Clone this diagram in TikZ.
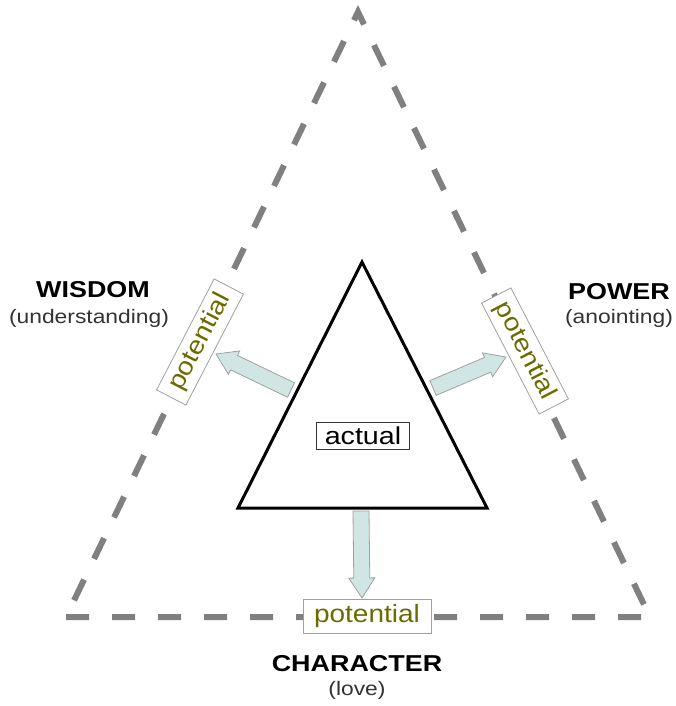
\documentclass[tikz,border=0pt]{standalone}
\usepackage{fontspec}
\setmainfont{Liberation Sans}[FakeStretch=1.17]
\newfontfamily\potfont{Liberation Sans}[FakeStretch=1.12]
\usetikzlibrary{calc}
\definecolor{dashgray}{HTML}{808080}
\definecolor{potcol}{HTML}{6B6B00}
\definecolor{arrowfill}{HTML}{CFE6E4}
\definecolor{arrowedge}{HTML}{A0A0A0}
\tikzset{
  outertri/.style={draw=dashgray, line width=6pt, dash pattern=on 23pt off 23pt},
  innertri/.style={draw=black, line width=3pt, line join=miter},
  potbox/.style={draw=arrowedge, line width=0.8pt, fill=white, text=potcol, font=\potfont\fontsize{25}{29}\selectfont,
    minimum width=125pt, minimum height=33pt, inner sep=0pt},
  actbox/.style={draw=black!80, line width=0.8pt, fill=white, font=\fontsize{24.5}{28}\selectfont,
    minimum width=93pt, minimum height=27pt, inner sep=0pt},
  heading/.style={font=\fontsize{23}{27}\selectfont\bfseries, inner sep=0pt},
  subheading/.style={font=\fontsize{19.5}{23}\selectfont, text=black!80, inner sep=0pt},
  barrow/.style={fill=arrowfill, draw=arrowedge, line width=0.8pt, line join=miter}
}
\newcommand\blockarrow[2]{%
  \path ($(#2)!20pt!(#1)$) coordinate (ba-neck);
  \draw[barrow] ($(#1)!8pt!90:(#2)$) -- ($(ba-neck)!8pt!90:(#2)$) -- ($(ba-neck)!13pt!90:(#2)$)
    -- (#2) -- ($(ba-neck)!13pt!-90:(#2)$) -- ($(ba-neck)!8pt!-90:(#2)$) -- ($(#1)!8pt!-90:(#2)$) -- cycle;}
\begin{document}
\begin{tikzpicture}[x=1pt,y=-1pt]
\path[use as bounding box] (0,0) rectangle (675,706);
% outer dashed triangle
\coordinate (oA) at (358,12);
\coordinate (oL) at (66,617);
\coordinate (oR) at (650,617);
\draw[outertri] (oL) -- (oR) -- (oA) -- cycle;
% arrows
\coordinate (tL) at (291,390); \coordinate (pL) at (216,354);
\coordinate (tR) at (433,388); \coordinate (pR) at (506,357);
\coordinate (tB) at (361,511); \coordinate (pB) at (362,598);
\blockarrow{tL}{pL}
\blockarrow{tR}{pR}
\blockarrow{tB}{pB}
% inner triangle
\coordinate (iA) at (362,262);
\coordinate (iL) at (238,508);
\coordinate (iR) at (487,508);
\draw[innertri] (iL) -- (iR) -- (iA) -- cycle;
\node[actbox] (actual) at (363,436) {actual};
% potential boxes
\node[potbox, rotate=62.6] (potL) at (200,342) {potential};
\node[potbox, rotate=-62.6] (potR) at (525,351) {potential};
\node[potbox, minimum width=128pt, minimum height=34pt] (potB) at (367,616) {potential};
% labels
\node[heading] (wisdom) at (93,290) {WISDOM};
\node[subheading] (wisdomsub) at (89,318) {(understanding)};
\node[heading] (power) at (619,292) {POWER};
\node[subheading] (powersub) at (619,318) {(anointing)};
\node[heading] (character) at (357,664) {CHARACTER};
\node[subheading] (charsub) at (357,690) {(love)};
\end{tikzpicture}
\end{document}
